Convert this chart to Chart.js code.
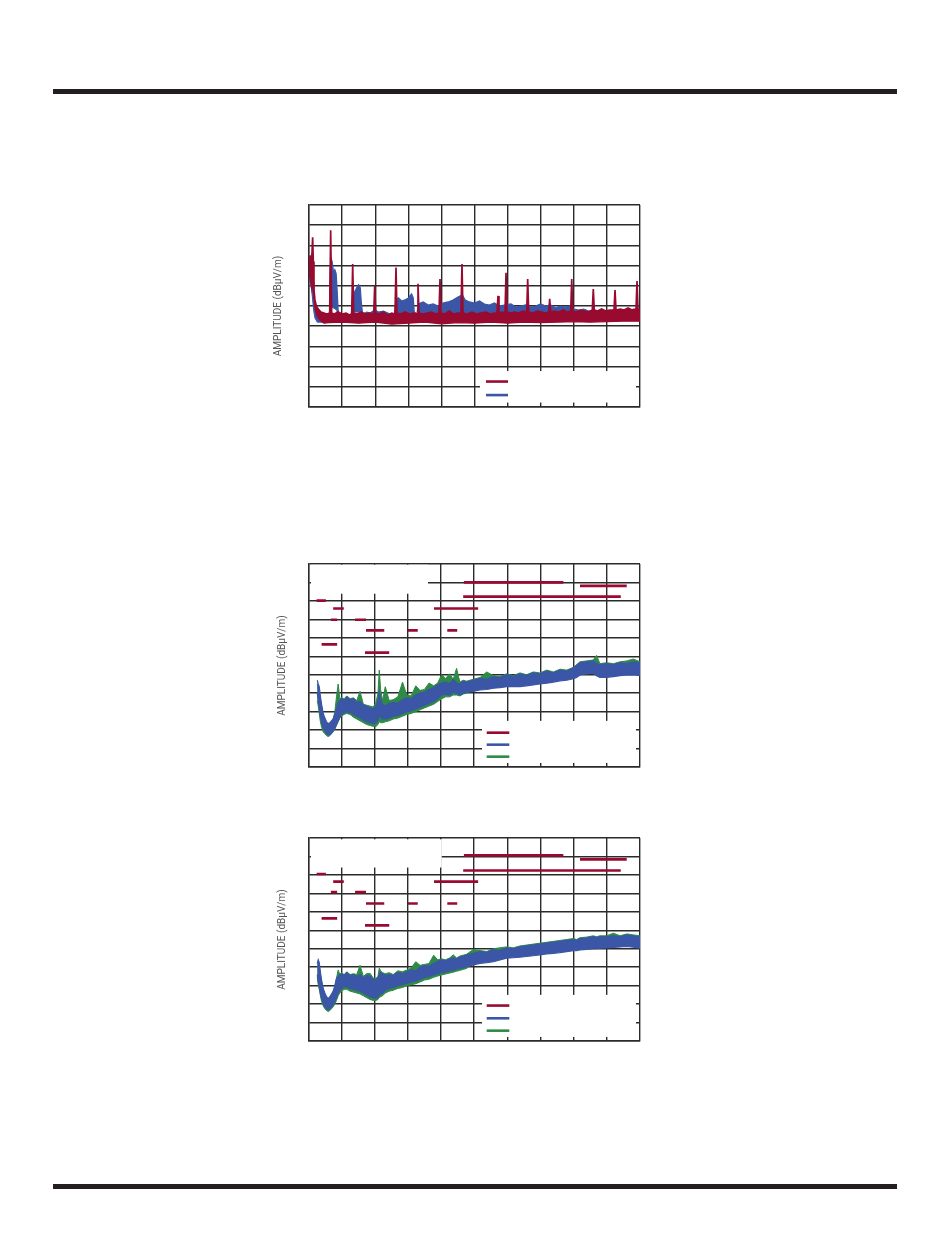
<!DOCTYPE html>
<html>
<head>
<meta charset="utf-8">
<script src="https://cdn.jsdelivr.net/npm/chart.js@4/dist/chart.umd.min.js"></script>
<style>
  body { margin: 0; background: #fff; }
  #page { position: relative; width: 950px; height: 1241px; background: #fff; overflow: hidden; }
  .rule { position: absolute; left: 53px; width: 844px; height: 5px; background: #231f20; }
  canvas { position: absolute; }
</style>
</head>
<body>
<div id="page">
  <div class="rule" style="top:89px"></div>
  <div class="rule" style="top:1184px"></div>
  <canvas id="scan1" width="375" height="212" style="left:270px;top:200px"></canvas>
  <canvas id="scan2" width="375" height="213" style="left:270px;top:559px"></canvas>
  <canvas id="scan3" width="375" height="213" style="left:270px;top:833px"></canvas>
</div>
<script>
// ---- chart 1 : red / blue traces, [x, y] pairs (x 0..1000, y 0..100)
const red1Top = [[0,73],[3,75],[6,72],[9,76],[11,84],[13,72],[15,58],[18,53],[22,50],[28,48.5],[36,47],[45,46.5],[54,46],
  [62.5,46.5],[65.5,87.5],[68.5,46.5],[76,46],[88,47],[100,46],[112,46.5],[122,45.5],[129,46],[132,70.8],[135,46.5],[145,46],
  [158,47],[170,46],[182,46.5],[195.5,46],[198.5,60],[201.5,46.5],[212,46],[225,47],[238,45.5],[250,46.5],[259.8,46],[262.8,69],
  [265.8,46.5],[278,46],[290,47],[304,46],[316,46.5],[326.3,46],[329.3,61],[332.3,46.5],[345,46],[358,46.5],[370,47],[382,46],
  [392.8,46.5],[395.8,63.4],[398.8,46.5],[410,46],[424,47.5],[437,46],[450,46.5],[459.2,46.5],[462.2,70.8],[465.2,46.5],[478,46],
  [492,47],[506,46],[520,46.5],[534,47],[548,46],[560,46.5],[568,46.5],[571,55],[574,46.5],[584,47],[592.2,46.5],[595.2,66.5],
  [598.2,47],[610,46.5],[622,47],[634,46.5],[646,47.5],[657.7,47],[660.7,63.4],[663.7,47],[676,46.5],[690,47.5],[703,47],
  [715,46.5],[724.2,47],[727.2,53.5],[730.2,47],[742,47.5],[755,47],[768,48],[780,47],[790.7,47.5],[793.7,63.4],[796.7,47.5],
  [808,47],[820,48],[832,47.5],[845,47],[855.9,48],[858.9,58.4],[861.9,48],[872,47.5],[884,48.5],[896,47.5],[908,48],
  [921.5,48],[924.5,57.9],[927.5,48],[940,48.5],[952,48],[964,49],[976,48],[988,48.5],[991,62.4],[994,48],[1000,48.5]];
const red1Bot = [[0,66],[3,64],[6,61],[9,58],[11,60],[13,62],[15,54],[18,49],[22,46],[28,44],[36,42.5],[45,41.5],[60,41.8],
  [100,42],[150,41.5],[200,42],[250,41],[300,41.5],[350,42],[400,41.2],[450,41.8],[500,41.5],[550,42],[600,41.5],[650,42],
  [700,41.8],[750,42],[800,42.2],[850,42],[900,42.3],[950,42.5],[1000,42.5]];
const blue1Top = [[0,72],[4,70],[8,66],[12,58],[16,50],[20,47],[28,45.5],[40,45],[55,45.5],[62,46],[64,70],[66,74],[70,72],
  [74,67],[78,68],[82,66],[85,58],[88,48],[92,45.5],[110,45],[128,46],[132,56],[138,57],[144,59],[150,60.5],[155,59],[158,52],
  [162,46],[175,47],[185,46.5],[198,48],[210,47],[225,47.5],[245,46],[258,46],[263,53],[270,54],[280,52.5],[290,53],[300,54],
  [310,56],[315,54],[318,47],[326,46],[330,51],[345,52],[360,50.5],[375,51],[390,50],[405,51.5],[420,52],[435,53],[450,54.5],
  [463,55.5],[472,53],[485,52],[500,51.5],[515,52.5],[530,51],[545,50.5],[560,51.5],[575,50],[590,50.5],[610,51],[625,49.5],
  [640,50],[655,50.5],[670,49.5],[685,50],[700,51],[715,50],[730,50.5],[745,49],[760,50],[775,49.5],[790,50],[800,48.5],
  [815,48],[830,48.5],[845,47.5],[860,48],[875,47],[890,48],[905,47],[920,48],[935,47.5],[950,48],[965,47.5],[980,48.5],[1000,47.5]];
const blue1Bot = [[0,64],[8,58],[14,48],[18,44],[25,42],[63,42],[64.5,50],[84,48],[88,42],[130,42],[133,47],[157,47],[162,42],
  [262,42],[264,46.5],[315,46.5],[318,42],[328,42],[331,45.5],[480,46],[800,45],[1000,43.5]];

// ---- charts 2 and 3 : common frequency grid (x 0..1000, y 0..110)
const scanX = [27, 30, 33, 36, 40, 45, 50, 55, 60, 65,
  70, 75, 80, 85, 90, 95, 100, 108, 116, 126,
  136, 146, 156, 166, 176, 186, 196, 204, 210, 214,
  218, 224, 232, 244, 256, 270, 284, 297, 310, 324,
  337, 350, 364, 378, 390, 402, 414, 426, 437, 447,
  457, 467, 477, 497, 518, 538, 558, 578, 598, 618,
  638, 658, 678, 698, 719, 739, 759, 779, 799, 809,
  819, 839, 859, 869, 879, 899, 920, 940, 960, 980,
  1000];

const blue2Hi = [47, 45, 43.5, 39, 34, 29, 26.5, 24.5, 23.5, 24,
  25, 26, 28.5, 32, 35, 36, 37, 36, 38, 36.5,
  37, 35, 35.5, 33.5, 33, 32, 31.5, 33, 36, 41,
  37, 34, 33, 34.5, 35, 34.5, 36.5, 37.5, 37, 39,
  40, 40.5, 42, 43, 44.5, 45.5, 46, 45, 47.5, 45.5,
  45, 46.5, 46, 47, 48, 47.5, 49, 48.5, 50, 49,
  50.5, 49.5, 51, 50.5, 52, 51, 52.5, 52, 53.5, 55,
  56.5, 57, 57.5, 56, 55.5, 56, 55.5, 56.5, 56, 57,
  56.5];
const blue2Lo = [40, 36, 32, 28, 24, 21, 19.5, 18, 17.5, 17.5,
  18.5, 19.5, 21, 23, 25, 27, 28.5, 29.5, 30, 29.5,
  28.5, 27.5, 26.5, 25.5, 24.5, 24, 23.5, 24, 25.5, 28,
  27, 26, 26, 26.5, 27.5, 28, 29, 30, 30.5, 31.5,
  32.5, 33.5, 34.5, 35.5, 37, 39, 39.5, 39, 40.5, 40,
  39, 40, 40.5, 41, 41.8, 42, 42.7, 43, 43.5, 43.5,
  43.6, 44, 44.5, 45, 45.4, 46, 46.7, 47, 47.8, 48.5,
  49.9, 50.5, 50.8, 49.5, 48.5, 48.5, 49, 49.5, 49.9, 50,
  49.5];
const green2Hi = [45, 42, 40, 37, 33, 28, 25, 23, 22, 23,
  24.5, 26, 30, 38, 45, 37, 37.5, 37, 38.5, 37,
  37.5, 36, 41, 34, 33.5, 33, 32.5, 35, 40, 52.5,
  42, 36, 43.5, 36, 36.5, 38, 46, 39, 38.5, 44,
  41.5, 42, 45.5, 44, 45.5, 50, 48, 50.5, 47.5, 53.5,
  46, 47, 46.5, 47.5, 48.5, 51.5, 49.5, 49, 50.5, 49.5,
  51, 50, 51.5, 51, 52.5, 51.5, 53, 52.5, 54, 55.5,
  57, 57.5, 58, 60.5, 56, 56.5, 56, 57, 57.5, 58.5,
  57];
const green2Lo = [36, 33, 29, 25, 21.5, 19, 18, 17, 16.5, 17,
  18, 19, 20.5, 22.5, 24.5, 26.5, 27.5, 28.5, 29, 28.5,
  27, 26, 25, 24, 23, 22.5, 22, 22, 23, 24.5,
  24, 24, 24.5, 25, 26, 26.5, 27.5, 28.5, 29, 30,
  31, 32, 33, 34, 35.5, 37, 38, 38, 39, 39,
  38.5, 39.5, 40, 41.8, 42.6, 42.8, 43.5, 43.8, 44.3, 44.3,
  44.4, 44.8, 45.3, 45.8, 46.2, 46.8, 47.5, 47.8, 48.6, 49.3,
  50.7, 51.3, 51.6, 50.3, 49.3, 49.3, 49.8, 50.3, 50.7, 50.8,
  50.3];

const blue3Hi = [42, 44, 42.5, 38, 33, 28.5, 26, 24, 23, 24,
  25.5, 27, 30, 34, 35, 36, 36.5, 35.5, 37, 35.5,
  36, 35, 36, 34, 35.5, 35, 33.5, 33, 34, 36,
  37, 36.5, 35.5, 36, 35.5, 37, 36.5, 37.5, 38.5, 38,
  40, 41, 40.5, 42, 43, 44, 43.5, 44.5, 45, 44.5,
  45.5, 46, 46.5, 47.5, 48.5, 48, 49.5, 49, 50.5, 50,
  51, 51.5, 52, 52.5, 53, 53.5, 54, 54.5, 55, 54.5,
  55.5, 55.8, 56.5, 56, 56.5, 56.5, 57, 56.5, 57.5, 57,
  56.5];
const blue3Lo = [36, 32, 29.5, 26.5, 23, 20.5, 18.5, 17.5, 17, 17.5,
  18.5, 19.5, 21.5, 23.5, 26, 27.5, 28.5, 29.5, 29.5, 28.5,
  28, 27.5, 27, 26, 25, 24, 23.5, 23.3, 24, 25,
  25.5, 26, 27.5, 28.5, 29, 30, 30.5, 31.3, 32, 32.5,
  33.5, 34.5, 35, 35.8, 36.5, 37, 37.5, 38, 38.5, 39,
  39.3, 39.8, 40.3, 41.2, 42.1, 42.5, 43, 44, 44.9, 45.1,
  45.4, 45.8, 46.2, 46.7, 47.2, 47.5, 47.9, 48.4, 48.9, 49,
  49.3, 49.6, 50, 50.1, 50.3, 50.5, 50.7, 51, 51.2, 50.8,
  50.3];
const green3Hi = [40, 42, 40.5, 36.5, 32, 27.5, 25, 23.5, 22.5, 23.5,
  25, 26.5, 29.5, 34, 38.5, 36, 37, 36, 37.5, 36,
  36.5, 36, 41, 35, 36.5, 36.7, 34, 34, 35, 39.5,
  38, 37, 36.5, 37, 36, 38, 37.5, 38.5, 39.5, 43,
  41, 41.5, 42, 46.5, 44, 44.5, 44, 45, 46.7, 45,
  46, 46.5, 47, 49.5, 49, 48.5, 50, 50.5, 51, 50.5,
  51.5, 52, 52.5, 53, 53.5, 54, 54.5, 55, 55.5, 55,
  56, 56.3, 57, 56.5, 57, 57, 58.4, 57, 58, 57.5,
  57];
const green3Lo = [34.5, 30.5, 28, 25, 21.5, 19, 17.5, 16.5, 16, 16.5,
  17.5, 18.5, 20, 22, 24.5, 26, 27, 28, 28, 27,
  26.5, 26, 25.5, 24.5, 23.5, 22.5, 22, 22, 22.5, 23.5,
  24, 24.5, 26, 27, 27.5, 28.5, 29, 30, 30.5, 31,
  32, 33, 33.5, 34.5, 35.2, 35.8, 36.3, 36.8, 37.3, 37.8,
  38.3, 38.8, 39.3, 42, 42.9, 43.3, 43.8, 44.8, 45.7, 45.9,
  46.2, 46.6, 47, 47.5, 48, 48.3, 48.7, 49.2, 49.7, 49.8,
  50.1, 50.4, 50.8, 50.9, 51.1, 51.3, 51.5, 51.8, 52, 51.6,
  51.1];

// limit lines : [x start, x end, level]
const limits2 = [[469, 769, 100], [819, 960, 98.2], [467, 942, 92.3], [25, 53, 90.2], [75, 107, 85.9],
  [379, 512, 85.9], [68, 87, 79.8], [141, 174, 79.8], [174, 229, 74], [300, 330, 74], [419, 449, 74],
  [40, 87, 66.4], [171, 244, 62]];
const limits3 = [[469, 769, 100.6], [819, 960, 98.4], [467, 942, 92.4], [25, 53, 90.5], [75, 107, 86.4],
  [379, 512, 86.4], [68, 87, 80.7], [141, 174, 80.7], [174, 229, 74.5], [300, 330, 74.5], [419, 449, 74.5],
  [40, 87, 66.4], [171, 244, 62.6]];

const RED = '#990a30', BLUE = '#3b56a6', GREEN = '#2f8a46', GRID = '#2b2b2b';

const pairs = arr => arr.map(p => ({x: p[0], y: p[1]}));
const onGrid = ys => scanX.map((x, i) => ({x: x, y: ys[i]}));
function limitPts(segs) {
  const pts = [];
  segs.forEach(s => {
    pts.push({x: s[0], y: s[2]}, {x: s[1], y: s[2]}, {x: s[1], y: null});
  });
  return pts;
}

function band(data, color, fill, width) {
  return {data: data, borderColor: color, backgroundColor: color, borderWidth: width || 1,
    pointRadius: 0, tension: 0, fill: fill};
}

// white panels (where the printed labels sat) and the legend key strokes
function overlay(boxes, keyX, keys) {
  return {
    id: 'overlay',
    beforeDatasetsDraw(chart) {
      const ctx = chart.ctx, xs = chart.scales.x, ys = chart.scales.y;
      ctx.save();
      ctx.fillStyle = '#fff';
      boxes.forEach(b => {
        const l = xs.getPixelForValue(b[0]), r = xs.getPixelForValue(b[1]);
        const t = ys.getPixelForValue(b[3]), bt = ys.getPixelForValue(b[2]);
        ctx.fillRect(l, t, r - l, bt - t);
      });
      ctx.lineWidth = 2.6;
      keys.forEach(k => {
        const y = ys.getPixelForValue(k.y);
        ctx.strokeStyle = k.color;
        ctx.beginPath();
        ctx.moveTo(xs.getPixelForValue(keyX[0]), y);
        ctx.lineTo(xs.getPixelForValue(keyX[1]), y);
        ctx.stroke();
      });
      ctx.restore();
    }
  };
}

function scales(yMax, padTop, padBottom) {
  const grid = {color: GRID, lineWidth: 1.4, drawTicks: false};
  const border = {color: GRID, width: 1.4};
  return {
    x: {type: 'linear', min: 0, max: 1000, ticks: {display: false, stepSize: 100}, grid: grid, border: border},
    y: {min: 0, max: yMax, ticks: {display: false, stepSize: 10}, grid: grid, border: border,
      title: {display: true, text: 'AMPLITUDE (dBµV/m)', color: '#555',
        font: {family: 'Roboto', size: 10, lineHeight: 1.2}, padding: {top: padTop, bottom: padBottom}}}
  };
}

const baseOpts = (yMax, padTop, padBottom) => ({
  responsive: false, animation: false, devicePixelRatio: 1, events: [],
  layout: {padding: {top: 5, right: 5, bottom: 5, left: 0}},
  plugins: {legend: {display: false}, tooltip: {enabled: false}},
  scales: scales(yMax, padTop, padBottom)
});

// chart 1
new Chart(document.getElementById('scan1'), {
  type: 'line',
  data: {datasets: [
    band(pairs(red1Top), RED, '+1', 1.7),
    band(pairs(red1Bot), RED, false, 1.2),
    band(pairs(blue1Top), BLUE, '+1', 1.2),
    band(pairs(blue1Bot), BLUE, false)
  ]},
  options: baseOpts(100, 2, 25),
  plugins: [overlay([[516.6, 987.9, 2.2, 17.8]], [534.7, 601.2],
    [{y: 12.6, color: RED}, {y: 5.9, color: BLUE}])]
});

// charts 2 and 3
function scanChart(id, limits, bHi, bLo, gHi, gLo, boxes, keyYs) {
  new Chart(document.getElementById(id), {
    type: 'line',
    data: {datasets: [
      {data: limitPts(limits), borderColor: RED, borderWidth: 2.7, pointRadius: 0, spanGaps: false, fill: false},
      band(onGrid(bHi), BLUE, '+1', 1.2),
      band(onGrid(bLo), BLUE, false, 1.2),
      band(onGrid(gHi), GREEN, '+1'),
      band(onGrid(gLo), GREEN, false)
    ]},
    options: baseOpts(110, 6.5, 19.8),
    plugins: [overlay(boxes, [537.8, 606],
      [{y: keyYs[0], color: RED}, {y: keyYs[1], color: BLUE}, {y: keyYs[2], color: GREEN}])]
  });
}

scanChart('scan2', limits2, blue2Hi, blue2Lo, green2Hi, green2Lo,
  [[523.7, 987.9, 2.2, 25], [8.1, 360.9, 93.9, 109.6]], [18.6, 12.1, 5.6]);
scanChart('scan3', limits3, blue3Hi, blue3Lo, green3Hi, green3Lo,
  [[523.7, 987.9, 2.2, 25], [8.1, 402.2, 94, 109.3]], [19.2, 12.3, 5.6]);
</script>
</body>
</html>
